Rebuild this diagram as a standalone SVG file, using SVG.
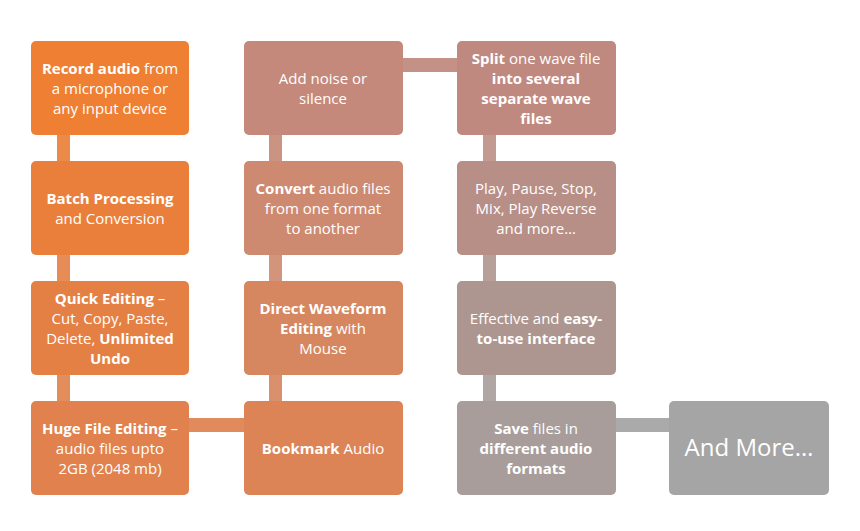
<svg xmlns="http://www.w3.org/2000/svg" width="860" height="531" viewBox="0 0 860 531">
<style>
text{font-family:"Open Sans","Liberation Sans",sans-serif;font-size:15px;fill:#fff;text-anchor:middle}
.b{font-weight:bold}
.n rect{rx:5}
</style>
<rect width="860" height="531" fill="#fff"/>
<g id="connectors">
<rect x="57" y="135" width="13" height="26" fill="#EC8A4A"/>
<rect x="57" y="255" width="13" height="26" fill="#E88C57"/>
<rect x="57" y="375" width="13" height="26" fill="#E48D5C"/>
<rect x="189" y="418" width="55" height="14" fill="#E18A5C"/>
<rect x="269" y="135" width="13" height="26" fill="#CB9482"/>
<rect x="269" y="255" width="13" height="26" fill="#D3947C"/>
<rect x="269" y="375" width="13" height="26" fill="#DA906C"/>
<rect x="403" y="58" width="54" height="14" fill="#C49187"/>
<rect x="483" y="135" width="13" height="26" fill="#C29A91"/>
<rect x="483" y="255" width="13" height="26" fill="#B8A09A"/>
<rect x="483" y="375" width="13" height="26" fill="#B0A7A4"/>
<rect x="616" y="418" width="53" height="14" fill="#AAAAAA"/>
</g>
<g id="n1" class="n"><rect x="31" y="41" width="158" height="94" fill="#EE7F33"/>
<text x="110" y="74"><tspan class="b">Record audio</tspan> from</text><text x="110" y="94">a microphone or</text><text x="110" y="114">any input device</text></g>
<g id="n2" class="n"><rect x="31" y="161" width="158" height="94" fill="#EA7F3C"/>
<text x="110" y="204" class="b">Batch Processing</text><text x="110" y="224">and Conversion</text></g>
<g id="n3" class="n"><rect x="31" y="281" width="158" height="94" fill="#E58045"/>
<text x="110" y="304"><tspan class="b">Quick Editing</tspan> –</text><text x="110" y="324">Cut, Copy, Paste,</text><text x="110" y="344">Delete, <tspan class="b">Unlimited</tspan></text><text x="110" y="364" class="b">Undo</text></g>
<g id="n4" class="n"><rect x="31" y="401" width="158" height="94" fill="#E1814D"/>
<text x="110" y="434"><tspan class="b">Huge File Editing</tspan> –</text><text x="110" y="454">audio files upto</text><text x="110" y="474">2GB (2048 mb)</text></g>
<g id="n5" class="n"><rect x="244" y="41" width="159" height="94" fill="#C4897B"/>
<text x="323" y="84">Add noise or</text><text x="323" y="104">silence</text></g>
<g id="n6" class="n"><rect x="244" y="161" width="159" height="94" fill="#CD8A71"/>
<text x="323" y="194"><tspan class="b">Convert</tspan> audio files</text><text x="323" y="214">from one format</text><text x="323" y="234">to another</text></g>
<g id="n7" class="n"><rect x="244" y="281" width="159" height="94" fill="#D6875F"/>
<text x="323" y="314" class="b">Direct Waveform</text><text x="323" y="334"><tspan class="b">Editing</tspan> with</text><text x="323" y="354">Mouse</text></g>
<g id="n8" class="n"><rect x="244" y="401" width="159" height="94" fill="#DC8456"/>
<text x="323" y="454"><tspan class="b">Bookmark</tspan> Audio</text></g>
<g id="n9" class="n"><rect x="457" y="41" width="159" height="94" fill="#BF8980"/>
<text x="536" y="64"><tspan class="b">Split</tspan> one wave file</text><text x="536" y="84" class="b">into several</text><text x="536" y="104" class="b">separate wave</text><text x="536" y="124" class="b">files</text></g>
<g id="n10" class="n"><rect x="457" y="161" width="159" height="94" fill="#B78F87"/>
<text x="536" y="194">Play, Pause, Stop,</text><text x="536" y="214">Mix, Play Reverse</text><text x="536" y="234">and more…</text></g>
<g id="n11" class="n"><rect x="457" y="281" width="159" height="94" fill="#AE9690"/>
<text x="536" y="324">Effective and <tspan class="b">easy-</tspan></text><text x="536" y="344" class="b">to-use interface</text></g>
<g id="n12" class="n"><rect x="457" y="401" width="159" height="94" fill="#A89D9A"/>
<text x="536" y="434"><tspan class="b">Save</tspan> files in</text><text x="536" y="454" class="b">different audio</text><text x="536" y="474" class="b">formats</text></g>
<g id="n13" class="n"><rect x="669" y="401" width="160" height="94" fill="#A5A5A5"/>
<text x="749" y="456" style="font-size:24px">And More…</text></g>
</svg>
